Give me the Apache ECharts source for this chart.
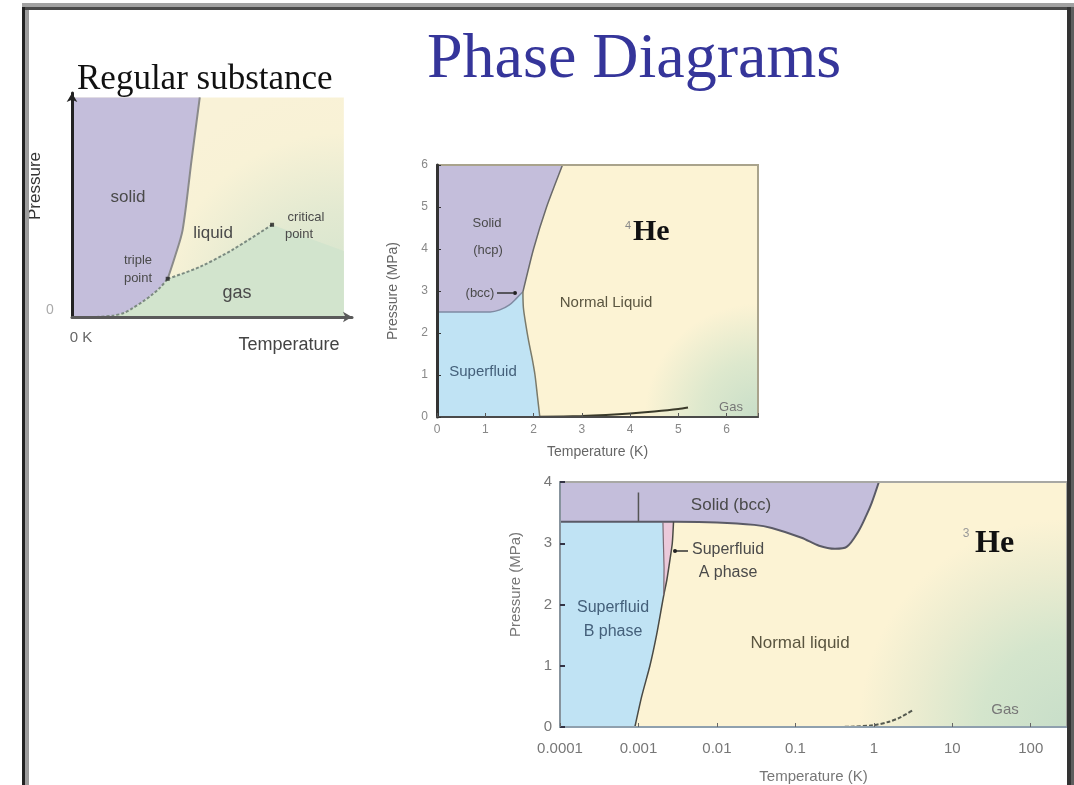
<!DOCTYPE html>
<html><head><meta charset="utf-8">
<script src="https://cdn.jsdelivr.net/npm/echarts@6/dist/echarts.min.js"></script>
<style>html,body{margin:0;padding:0;background:#fff}#c{width:1074px;height:785px}</style>
</head><body><div id="c"></div>
<script>
// ---------- Regular substance (arbitrary units 0..100) ----------
const regSublimation = [[9,0],[15,0.6],[19,1.8],[22.3,4.0],[26,7],[29.3,10],[32.5,13.5],[35.2,17.4]];
const regMelting = [[35.2,17.4],[38,28],[40.7,39.7],[44,71.7],[47,100]];
const regVapor = [[35.2,17.4],[47,22.8],[59,30.6],[73.6,42]];

// ---------- Helium-4 (T in K, P in MPa) ----------
const he4SolidBase = [[0,2.5],[1.1,2.5],[1.3,2.55],[1.5,2.67],[1.65,2.83],[1.78,2.98]];
const he4Melting = [[1.78,2.98],[2.0,4.0],[2.27,5.0],[2.6,6.0]];
const he4Lambda = [[1.78,2.98],[1.79,2.6],[1.84,2.2],[1.9,1.8],[1.97,1.4],[2.03,1.0],[2.08,0.5],[2.13,0]];
const he4Vapor = [[2.13,0.005],[3.0,0.024],[3.5,0.047],[4.0,0.082],[4.5,0.13],[5.0,0.19],[5.2,0.227]];
const he4XTicks = ['0','1','2','3','4','5','6'];

// ---------- Helium-3 (T in K, log scale; P in MPa) ----------
const he3Melting = [[0.0001,3.35],[0.003,3.35],[0.01,3.34],[0.03,3.3],[0.05,3.25],[0.12,3.09],[0.2,2.96],[0.32,2.91],[0.45,2.94],[0.64,3.2],[0.8,3.45],[0.94,3.66],[1.16,4.0]];
const he3Afm = [[0.001,3.35],[0.001,3.83]];
const he3Tc = [[0.0009,0],[0.0011,0.5],[0.0014,1.0],[0.0017,1.5],[0.002,2.0],[0.0021,2.15],[0.0023,2.4],[0.0025,2.7],[0.0027,3.0],[0.0028,3.35]];
const he3AB = [[0.0021,2.15],[0.00212,2.6],[0.00208,3.0],[0.00205,3.35]];
const he3Vapor = [[0.3,0.0],[0.5,0.005],[1.0,0.03],[1.6,0.09],[2.2,0.16],[3.1,0.27]];
const he3XTicks = ['0.0001','0.001','0.01','0.1','1','10','100'];

const COL = {purple:'#c4bedb', yellow:'#fcf3d4', blue:'#c0e3f4', green:'#d2e4cd', pink:'#ebc9da'};
const RG = echarts.graphic.RadialGradient;

function poly(gi, pts, fill, z) {
  return {type:'custom', xAxisIndex:gi, yAxisIndex:gi, data:pts, clip:true, silent:true, z:z||1,
    renderItem:(p, api) => p.dataIndex !== 0 ? null :
      {type:'polygon', shape:{points: pts.map(q => api.coord(q))}, style:{fill: fill}}};
}
function ln(gi, pts, color, width, type, smooth) {
  return {type:'line', xAxisIndex:gi, yAxisIndex:gi, data:pts, symbol:'none', showSymbol:false,
    smooth: smooth || false, lineStyle:{color:color, width:width, type:type||'solid'}, z:3, silent:true, clip:true};
}

// region polygons built from boundary arrays
const regBg = [[0,0],[100,0],[100,100],[0,100]];
const regSolid = [[0,0]].concat(regSublimation, regMelting.slice(1), [[0,100]]);
const regGas = regSublimation.concat(regVapor.slice(1), [[100,30],[100,0]]);

const he4Bg = [[0,0],[6.65,0],[6.65,6],[0,6]];
const he4Solid = he4SolidBase.concat(he4Melting.slice(1), [[0,6]]);
const he4Super = [[0,0]].concat(he4SolidBase, he4Lambda.slice(1));

const he3Bg = [[0.0001,0],[290,0],[290,4],[0.0001,4]];
const he3Solid = he3Melting.concat([[0.0001,4]]);
const he3B = [[0.0001,0]].concat(he3Tc.slice(0,6), he3AB.slice(1), [[0.0001,3.35]]);
const he3A = he3Tc.slice(5).concat(he3AB.slice().reverse());

const LBL = '#4a4a4a';
function txt(x, y, text, size, opt) {
  opt = opt || {};
  return {type:'text', x:x, y:y, rotation: opt.rot || 0, z:50, silent:true,
    style:{text:text, fontSize:size, fontFamily: opt.family || '"Liberation Sans", Arial, sans-serif',
      fontWeight: opt.weight || 'normal', fill: opt.color || LBL,
      align: opt.align || 'center', verticalAlign: opt.va || 'middle', lineHeight: opt.lh}};
}

const chart = echarts.init(document.getElementById('c'), null, {renderer:'canvas'});
const option = {
  animation:false,
  backgroundColor:'#ffffff',
  grid:[
    {left:72, top:93, width:280, height:224, show:false},
    {left:437, top:165, width:321, height:252, show:true, z:5, backgroundColor:'transparent', borderColor:'#a9a38c', borderWidth:2},
    {left:560, top:482, width:507, height:247, show:true, z:5, backgroundColor:'transparent', borderColor:'#a8a8a4', borderWidth:2}
  ],
  xAxis:[
    {gridIndex:0, type:'value', min:0, max:103, z:6,
      axisLine:{show:true, onZero:false, symbol:['none','arrow'], symbolSize:[8,9], lineStyle:{color:'#5a5a5a', width:3}},
      axisTick:{show:false}, axisLabel:{show:false}, splitLine:{show:false}},
    {gridIndex:1, type:'value', min:0, max:6.65, interval:1, z:6,
      axisLine:{show:true, onZero:false, lineStyle:{color:'#4a4a4a', width:2}},
      axisTick:{show:true, inside:true, length:4, lineStyle:{color:'#555'}},
      axisLabel:{color:'#888', fontSize:12, margin:7, formatter:(v)=> he4XTicks[Math.round(v)] || ''},
      splitLine:{show:false},
      name:'Temperature (K)', nameLocation:'middle', nameGap:28, nameTextStyle:{color:'#666', fontSize:14}},
    {gridIndex:2, type:'log', logBase:10, min:0.0001, max:290, z:6,
      axisLine:{show:true, onZero:false, lineStyle:{color:'#8fa0ae', width:2}},
      axisTick:{show:true, inside:true, length:4, lineStyle:{color:'#666'}},
      axisLabel:{color:'#777', fontSize:15, margin:14, showMaxLabel:false,
        formatter:(v)=>{const l=Math.log10(v); const r=Math.round(l); return Math.abs(l-r)<1e-6 ? (he3XTicks[r+4]||'') : '';}},
      splitLine:{show:false}, minorTick:{show:false},
      name:'Temperature (K)', nameLocation:'middle', nameGap:42, nameTextStyle:{color:'#777', fontSize:15}}
  ],
  yAxis:[
    {gridIndex:0, type:'value', min:0, max:102, z:6,
      axisLine:{show:true, onZero:false, symbol:['none','arrow'], symbolSize:[8,9], lineStyle:{color:'#222', width:3}},
      axisTick:{show:false}, axisLabel:{show:false}, splitLine:{show:false}},
    {gridIndex:1, type:'value', min:0, max:6, interval:1, z:6,
      axisLine:{show:true, onZero:false, lineStyle:{color:'#333', width:3}},
      axisTick:{show:true, inside:true, length:4, lineStyle:{color:'#333'}},
      axisLabel:{color:'#888', fontSize:12, margin:9}, splitLine:{show:false},
      name:'Pressure (MPa)', nameLocation:'middle', nameGap:37, nameTextStyle:{color:'#666', fontSize:14}},
    {gridIndex:2, type:'value', min:0, max:4, interval:1, z:6,
      axisLine:{show:true, onZero:false, lineStyle:{color:'#7d8d9b', width:1.5}},
      axisTick:{show:true, inside:true, length:5, lineStyle:{color:'#334', width:2}},
      axisLabel:{color:'#777', fontSize:15, margin:8}, splitLine:{show:false},
      name:'Pressure (MPa)', nameLocation:'middle', nameGap:37, nameTextStyle:{color:'#777', fontSize:15, padding:[0,0,0,40]}}
  ],
  series:[
    // regular substance
    poly(0, regBg, new RG(1,1,1.05,[{offset:0,color:'#cfe2cc'},{offset:0.45,color:'#e2e9d1'},{offset:0.8,color:'#f8f2d6'},{offset:1,color:'#f9f2d7'}]), 0),
    poly(0, regGas, COL.green, 1),
    poly(0, regSolid, COL.purple, 1),
    ln(0, regMelting, '#8a8a8a', 2, 'solid', 0.3),
    ln(0, regSublimation, '#7b8a80', 2, [3,2], 0.3),
    ln(0, regVapor, '#7b8a80', 2, [3,2], 0.3),
    {type:'scatter', xAxisIndex:0, yAxisIndex:0, data:[regVapor[0], regVapor[regVapor.length-1]],
      symbol:'rect', symbolSize:4, itemStyle:{color:'#222'}, z:4, silent:true},
    // helium 4
    poly(1, he4Bg, new RG(1,1,0.5,[{offset:0,color:'#c8dec8'},{offset:0.45,color:'#dde8cd'},{offset:0.9,color:'#fcf3d4'},{offset:1,color:COL.yellow}]), 0),
    poly(1, he4Super, COL.blue, 1),
    poly(1, he4Solid, COL.purple, 1),
    ln(1, he4SolidBase, '#7f8aa2', 1.5, 'solid', 0.3),
    ln(1, he4Melting, '#6a6a6a', 1.5, 'solid', 0.2),
    ln(1, he4Lambda, '#7a7a6a', 1.5, 'solid', 0.3),
    ln(1, he4Vapor, '#3a3a2a', 2, 'solid', 0.3),
    // helium 3
    poly(2, he3Bg, new RG(1,1,1.0,[{offset:0,color:'#c8dec9'},{offset:0.35,color:'#d4e5cc'},{offset:0.62,color:'#ebecd0'},{offset:0.85,color:'#fcf3d4'},{offset:1,color:COL.yellow}]), 0),
    poly(2, he3Solid, COL.purple, 1),
    poly(2, he3B, COL.blue, 1),
    poly(2, he3A, COL.pink, 1),
    ln(2, he3Melting, '#5a5a66', 2, 'solid', 0.3),
    ln(2, he3Afm, '#555', 1.5),
    ln(2, he3Tc, '#4a4a44', 1.5, 'solid', 0.2),
    ln(2, he3AB, '#7a6a74', 1.2),
    ln(2, he3Vapor, '#555a50', 2, [4,2], 0.3)
  ],
  graphic:[
    // slide frame
    {type:'rect', z:100, silent:true, shape:{x:22, y:3, width:1052, height:4}, style:{fill:'#a2a2a2'}},
    {type:'rect', z:100, silent:true, shape:{x:22, y:7, width:1052, height:3}, style:{fill:'#4a4a4a'}},
    {type:'rect', z:100, silent:true, shape:{x:22, y:7, width:3, height:778}, style:{fill:'#222'}},
    {type:'rect', z:100, silent:true, shape:{x:25, y:10, width:4, height:775}, style:{fill:'#9c9c9c'}},
    {type:'rect', z:100, silent:true, shape:{x:1067, y:7, width:4, height:778}, style:{fill:'#333'}},
    {type:'rect', z:100, silent:true, shape:{x:1071, y:7, width:3, height:778}, style:{fill:'#5e5e5e'}},
    // titles
    txt(427, 60, 'Phase Diagrams', 64, {family:'"Liberation Serif", "Times New Roman", serif', color:'#35359a', align:'left'}),
    txt(77, 80, 'Regular substance', 35, {family:'"Liberation Serif", "Times New Roman", serif', color:'#111', align:'left'}),
    // regular substance labels
    txt(128, 197, 'solid', 17),
    txt(213, 233, 'liquid', 17),
    txt(138, 260, 'triple', 13),
    txt(138, 278, 'point', 13),
    txt(306, 217, 'critical', 13),
    txt(299, 234, 'point', 13),
    txt(237, 293, 'gas', 18),
    txt(35, 186, 'Pressure', 17, {rot:Math.PI/2, color:'#333'}),
    txt(50, 310, '0', 14, {color:'#aaa'}),
    txt(81, 338, '0 K', 15, {color:'#666'}),
    txt(289, 345, 'Temperature', 18, {color:'#444'}),
    // He-4 labels
    txt(487, 223, 'Solid', 13),
    txt(488, 250, '(hcp)', 13),
    txt(480, 293, '(bcc)', 13),
    {type:'line', z:50, silent:true, shape:{x1:497, y1:293, x2:513, y2:293}, style:{stroke:'#333', lineWidth:1.5}},
    {type:'circle', z:50, silent:true, shape:{cx:515, cy:293, r:2}, style:{fill:'#222'}},
    txt(606, 303, 'Normal Liquid', 15, {color:'#5a5540'}),
    txt(483, 372, 'Superfluid', 15, {color:'#44607a'}),
    txt(731, 407, 'Gas', 13, {color:'#777'}),
    txt(628, 226, '4', 11, {color:'#888'}),
    txt(633, 232, 'He', 30, {family:'"Liberation Serif", "Times New Roman", serif', weight:'bold', color:'#111', align:'left'}),
    // He-3 labels
    txt(731, 505, 'Solid (bcc)', 17),
    txt(728, 550, 'Superfluid', 16),
    txt(728, 573, 'A phase', 16),
    {type:'line', z:50, silent:true, shape:{x1:675, y1:551, x2:688, y2:551}, style:{stroke:'#333', lineWidth:1.5}},
    {type:'circle', z:50, silent:true, shape:{cx:675, cy:551, r:2}, style:{fill:'#222'}},
    txt(613, 608, 'Superfluid', 16, {color:'#44607a'}),
    txt(613, 632, 'B phase', 16, {color:'#44607a'}),
    txt(800, 643, 'Normal liquid', 17, {color:'#5a5540'}),
    txt(1005, 710, 'Gas', 15, {color:'#777'}),
    txt(966, 534, '3', 12, {color:'#999'}),
    txt(975, 544, 'He', 32, {family:'"Liberation Serif", "Times New Roman", serif', weight:'bold', color:'#111', align:'left'})
  ]
};
chart.setOption(option);
</script></body></html>
